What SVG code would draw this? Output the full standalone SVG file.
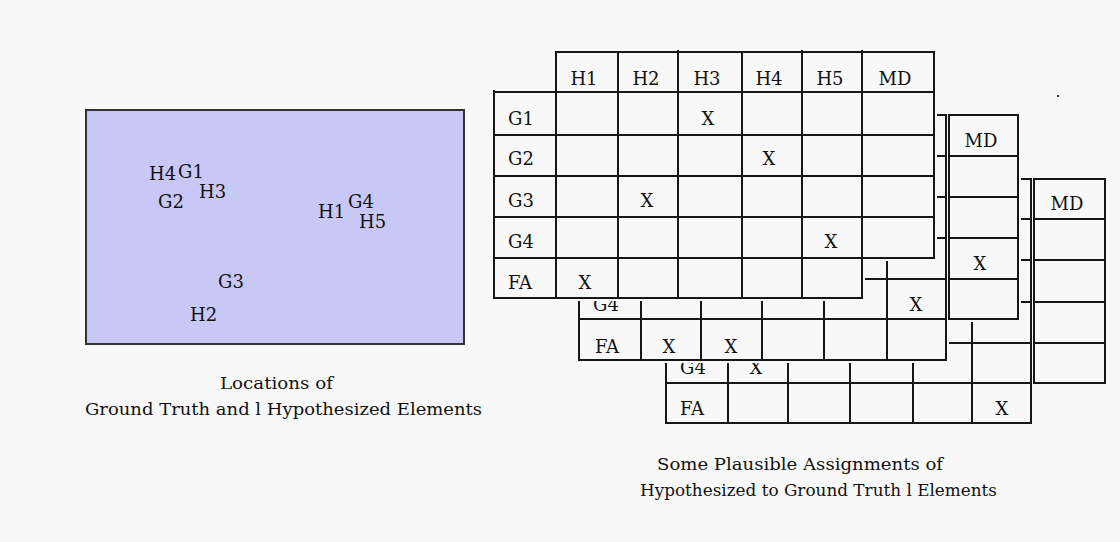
<svg xmlns="http://www.w3.org/2000/svg" width="1120" height="542" viewBox="0 0 1120 542">
<style>
.bg{fill:#f8f8f8}
.occ{fill:#f8f8f8;stroke:none}
.grid{fill:none;stroke:#161616;stroke-width:2;stroke-linecap:square}
.t{font-family:"DejaVu Serif","Liberation Serif",serif;font-size:18px;fill:#111}
.c{text-anchor:middle}
.cap{font-family:"DejaVu Serif","Liberation Serif",serif;font-size:17.5px;fill:#111}
</style>
<rect class="bg" x="0" y="0" width="1120" height="542"/>
<rect x="1057" y="95" width="2" height="2" fill="#333"/>

<g id="locations">
<rect x="86" y="110" width="378" height="234" fill="#c8c8f6" stroke="#333" stroke-width="2"/>
<text class="t" x="149" y="180">H4</text>
<text class="t" x="178" y="178">G1</text>
<text class="t" x="199" y="198">H3</text>
<text class="t" x="158" y="208">G2</text>
<text class="t" x="318" y="218">H1</text>
<text class="t" x="348" y="208">G4</text>
<text class="t" x="359" y="228">H5</text>
<text class="t" x="218" y="288">G3</text>
<text class="t" x="190" y="321">H2</text>
</g>

<g id="caption-left">
<text class="cap" x="220" y="389" textLength="113" lengthAdjust="spacingAndGlyphs">Locations of</text>
<text class="cap" x="85" y="415" textLength="397" lengthAdjust="spacingAndGlyphs">Ground Truth and l Hypothesized Elements</text>
</g>

<g id="table-3">
<path class="grid" d="M728 179H1031M666 219H1031M666 260H1031M666 302H1031M666 343H1031M666 383H1031M666 423H1031
M666 219V423M728 179V423M788 179V423M850 179V423M913 179V423M972 179V423M1031 179V423
M1034 179H1105M1034 219H1105M1034 260H1105M1034 302H1105M1034 343H1105M1034 383H1105M1034 179V383M1105 179V383"/>
<text class="t c" x="1067" y="210">MD</text>
<text class="t" x="680" y="374">G4</text>
<text class="t c" x="756" y="374">X</text>
<text class="t" x="680" y="415">FA</text>
<text class="t c" x="1002" y="415">X</text>
</g>
<polygon class="occ" points="638,112 1021,112 1021,322 949,322 949,363 576,363 576,153 638,153"/>

<g id="table-2">
<path class="grid" d="M641 115H946M579 156H946M579 197H946M579 238H946M579 279H946M579 319H946M579 360H946
M579 156V360M641 115V360M701 115V360M762 115V360M824 115V360M887 115V360M946 115V360
M949 115H1018M949 156H1018M949 197H1018M949 238H1018M949 279H1018M949 319H1018M949 115V319M1018 115V319"/>
<text class="t c" x="981" y="147">MD</text>
<text class="t c" x="980" y="270">X</text>
<text class="t" x="593" y="311">G4</text>
<text class="t c" x="916" y="311">X</text>
<text class="t" x="595" y="353">FA</text>
<text class="t c" x="669" y="353">X</text>
<text class="t c" x="731" y="353">X</text>
</g>
<polygon class="occ" points="553,49 937,49 937,261 865,261 865,301 491,301 491,89 553,89"/>

<g id="table-1">
<path class="grid" d="M556 52H934M494 92H934M494 135H934M494 176H934M494 217H934M494 258H934M494 298H862
M494 91V298M556 52V298M618 52V298M678 51V298M742 52V298M802 51V298M862 51V298M934 52V258"/>
<text class="t c" x="584" y="85">H1</text>
<text class="t c" x="646" y="85">H2</text>
<text class="t c" x="707" y="85">H3</text>
<text class="t c" x="769" y="85">H4</text>
<text class="t c" x="830" y="85">H5</text>
<text class="t c" x="895" y="85">MD</text>
<text class="t" x="508" y="125">G1</text>
<text class="t" x="508" y="165">G2</text>
<text class="t" x="508" y="207">G3</text>
<text class="t" x="508" y="248">G4</text>
<text class="t" x="508" y="289">FA</text>
<text class="t c" x="708" y="125">X</text>
<text class="t c" x="769" y="165">X</text>
<text class="t c" x="647" y="207">X</text>
<text class="t c" x="831" y="248">X</text>
<text class="t c" x="585" y="289">X</text>
</g>

<g id="caption-right">
<text class="cap" x="657" y="470" textLength="286" lengthAdjust="spacingAndGlyphs">Some Plausible Assignments of</text>
<text class="cap" x="640" y="496" textLength="357" lengthAdjust="spacingAndGlyphs">Hypothesized to Ground Truth l Elements</text>
</g>
</svg>
